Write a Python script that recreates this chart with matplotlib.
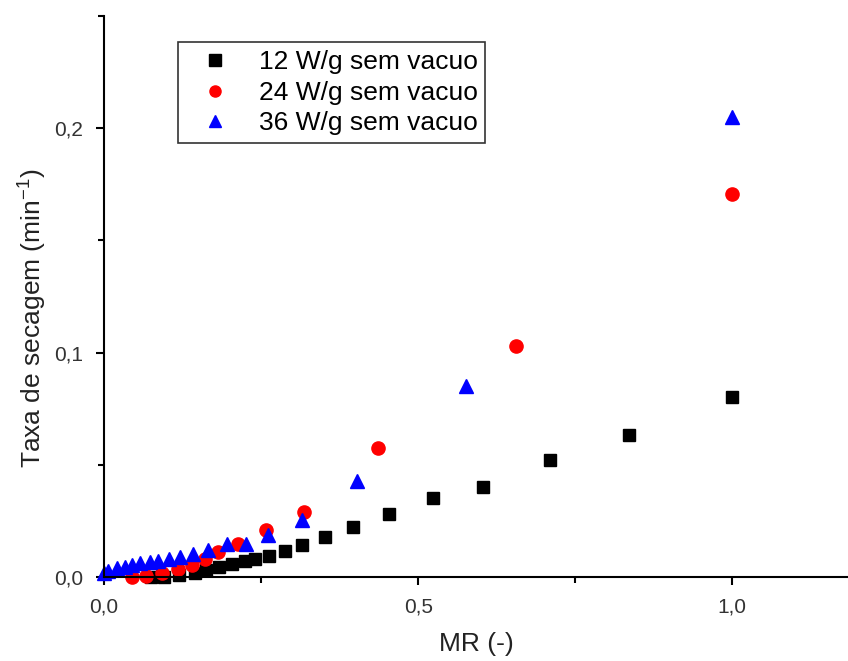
import matplotlib
matplotlib.use('Agg')
from matplotlib import pyplot as plt
from matplotlib.ticker import FuncFormatter, MultipleLocator

plt.rcParams['font.family'] = ['Liberation Sans', 'DejaVu Sans']

# 12 W/g sem vacuo
mr_12 = [1.0, 0.836, 0.709, 0.603, 0.523, 0.453, 0.396, 0.351, 0.315, 0.288,
         0.262, 0.240, 0.225, 0.204, 0.183, 0.162, 0.145, 0.120, 0.095, 0.075]
taxa_12 = [0.0800, 0.0635, 0.0522, 0.0400, 0.0350, 0.0280, 0.0224, 0.0180, 0.0145, 0.0118,
           0.0095, 0.0080, 0.0070, 0.0058, 0.0045, 0.0032, 0.0020, 0.0008, 0.0001, 0.0]

# 24 W/g sem vacuo
mr_24 = [1.0, 0.655, 0.436, 0.318, 0.258, 0.213, 0.181, 0.161, 0.140, 0.118, 0.092, 0.067, 0.045]
taxa_24 = [0.1707, 0.1031, 0.0573, 0.0289, 0.0209, 0.0147, 0.0111, 0.0082, 0.0053, 0.0036,
           0.0018, 0.0003, 0.0]

# 36 W/g sem vacuo
mr_36 = [1.0, 0.5755, 0.402, 0.315, 0.261, 0.226, 0.196, 0.165, 0.1415, 0.121, 0.103,
         0.086, 0.073, 0.057, 0.0445, 0.033, 0.021, 0.006, 0.0]
taxa_36 = [0.2049, 0.0853, 0.0427, 0.0253, 0.0187, 0.0147, 0.0147, 0.0120, 0.0102, 0.0089,
           0.0080, 0.0071, 0.0067, 0.0062, 0.0053, 0.0044, 0.0040, 0.0027, 0.0018]

fig = plt.figure(figsize=(8.48, 6.61), dpi=100)
ax = fig.add_axes([0.1226, 0.127, 0.8774, 0.849])

ax.plot(mr_12, taxa_12, 's', color='black', markersize=8.5, label='12 W/g sem vacuo', clip_on=False)
ax.plot(mr_24, taxa_24, 'o', color='#ff0000', markersize=9.5, label='24 W/g sem vacuo', clip_on=False)
ax.plot(mr_36, taxa_36, '^', color='#0000ff', markersize=10.5, label='36 W/g sem vacuo', clip_on=False)

ax.set_xlim(0, 1.184)
ax.set_ylim(0, 0.25)

ax.spines['top'].set_visible(False)
ax.spines['right'].set_visible(False)
ax.spines['left'].set_linewidth(1.5)
ax.spines['bottom'].set_linewidth(1.5)

ax.xaxis.set_major_locator(MultipleLocator(0.5))
ax.xaxis.set_minor_locator(MultipleLocator(0.25))
ax.yaxis.set_major_locator(MultipleLocator(0.1))
ax.yaxis.set_minor_locator(MultipleLocator(0.05))
comma = FuncFormatter(lambda v, p: ('%.1f' % v).replace('.', ','))
ax.xaxis.set_major_formatter(comma)
ax.yaxis.set_major_formatter(comma)
ax.tick_params(which='major', length=6, width=1.5, labelsize=15, colors='black')
ax.tick_params(axis='x', which='major', pad=9)
ax.tick_params(axis='y', which='major', pad=9)
ax.tick_params(which='minor', length=4, width=1.5)
for lab in ax.get_xticklabels() + ax.get_yticklabels():
    lab.set_color('#333333')

ax.set_xlabel('MR (-)', fontsize=19, color='#222222', labelpad=11)
ax.set_ylabel('Taxa de secagem (min$^{\\mathregular{-1}}$)', fontsize=19, color='#222222', labelpad=4)
ax.yaxis.label.set_y(0.462)

leg = ax.legend(loc='upper left', bbox_to_anchor=(0.21, 0.936), bbox_transform=fig.transFigure,
                fontsize=19, frameon=True, fancybox=False, edgecolor='black',
                handletextpad=0.55, borderpad=0.3, labelspacing=0.25, handlelength=2.2,
                borderaxespad=0)
leg.get_frame().set_linewidth(1.2)
for h in leg.legend_handles:
    h.set_markersize(8)

fig.savefig('out.png', dpi=100)
